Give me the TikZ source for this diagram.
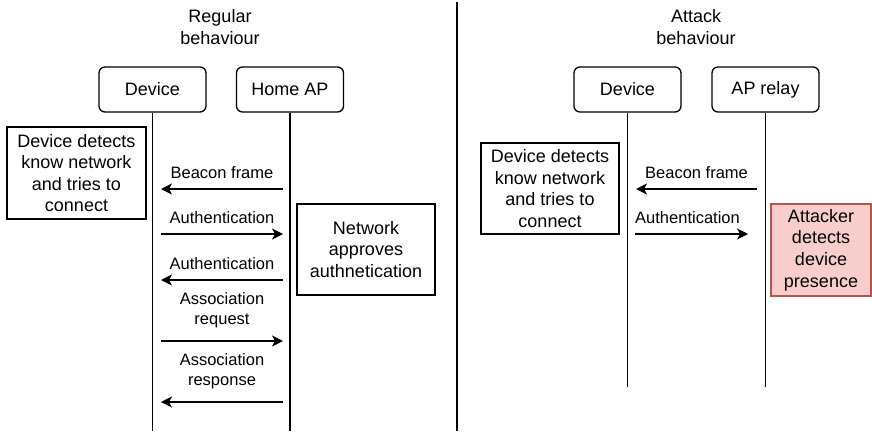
\documentclass[tikz,border=0pt]{standalone}
\usepackage{fontspec}
\setmainfont{Liberation Sans}
\usetikzlibrary{arrows.meta}
\definecolor{pinkfill}{HTML}{F8CECC}
\definecolor{pinkline}{HTML}{B85450}
\begin{document}
\begin{tikzpicture}[x=1pt,y=-1pt,
  big/.style={font=\fontsize{18}{21.6}\selectfont, align=center},
  small/.style={font=\fontsize{16.5}{20}\selectfont, align=center},
  actor/.style={big, draw, line width=1.3pt, rounded corners=6pt, minimum width=107pt, minimum height=45pt, inner sep=0pt},
  notebox/.style={big, draw, line width=1.3pt, inner sep=0pt},
  lifeline/.style={line width=1.3pt},
  msg/.style={line width=1.3pt, -{Stealth[length=11pt,width=11pt,inset=3pt]}},
  msglabel/.style={small, midway, inner sep=0pt}
]
\useasboundingbox (0,0) rectangle (872,431);

% titles
\node[big] (t1) at (220,27) {Regular\\behaviour};
\node[big] (t2) at (696,27) {Attack\\behaviour};

% divider
\coordinate (divtop) at (457,2);
\coordinate (divbot) at (457,431);
\draw[lifeline] (divtop) -- (divbot);

% left actors
\node[actor] (dev1) at (152.5,89.5) {Device};
\node[actor] (ap1) at (290,89.5) {Home AP};
\coordinate (dev1end) at (152.5,431);
\coordinate (ap1end) at (290,431);
\draw[lifeline] (dev1.south) -- (dev1end);
\draw[lifeline] (ap1.south) -- (ap1end);

% left notes
\node[notebox, minimum width=139pt, minimum height=92pt] (n1) at (76.5,173) {Device detects\\know network\\and tries to\\connect};
\node[notebox, minimum width=138pt, minimum height=91pt] (n2) at (366,249.5) {Network\\approves\\authnetication};

% left messages
\coordinate (a1s) at (283,189); \coordinate (a1e) at (161,189);
\coordinate (a2s) at (161,234); \coordinate (a2e) at (283,234);
\coordinate (a3s) at (283,280); \coordinate (a3e) at (161,280);
\coordinate (a4s) at (161,341); \coordinate (a4e) at (283,341);
\coordinate (a5s) at (283,402); \coordinate (a5e) at (161,402);
\draw[msg] (a1s) -- node[msglabel, yshift=16pt] (l1) {Beacon frame} (a1e);
\draw[msg] (a2s) -- node[msglabel, yshift=16pt] (l2) {Authentication} (a2e);
\draw[msg] (a3s) -- node[msglabel, yshift=16pt] (l3) {Authentication} (a3e);
\draw[msg] (a4s) -- node[msglabel, yshift=31pt] (l4) {Association\\request} (a4e);
\draw[msg] (a5s) -- node[msglabel, yshift=31pt] (l5) {Association\\response} (a5e);

% right actors
\node[actor] (dev2) at (627.5,89.5) {Device};
\node[actor] (ap2) at (765.5,89.5) {AP relay};
\coordinate (dev2end) at (627.5,387);
\coordinate (ap2end) at (765.5,387);
\draw[lifeline] (dev2.south) -- (dev2end);
\draw[lifeline] (ap2.south) -- (ap2end);

% right notes
\node[notebox, minimum width=138pt, minimum height=91pt] (n3) at (550,188.5) {Device detects\\know network\\and tries to\\connect};
\node[notebox, draw=pinkline, fill=pinkfill, minimum width=100pt, minimum height=92pt] (n4) at (821,250) {Attacker\\detects\\device\\presence};

% right messages
\coordinate (b1s) at (757,189); \coordinate (b1e) at (636,189);
\coordinate (b2s) at (635,234); \coordinate (b2e) at (748,234);
\draw[msg] (b1s) -- node[msglabel, yshift=16pt] (m1) {Beacon frame} (b1e);
\draw[msg] (b2s) -- node[msglabel, yshift=16pt, xshift=-4pt] (m2) {Authentication} (b2e);
\end{tikzpicture}
\end{document}
